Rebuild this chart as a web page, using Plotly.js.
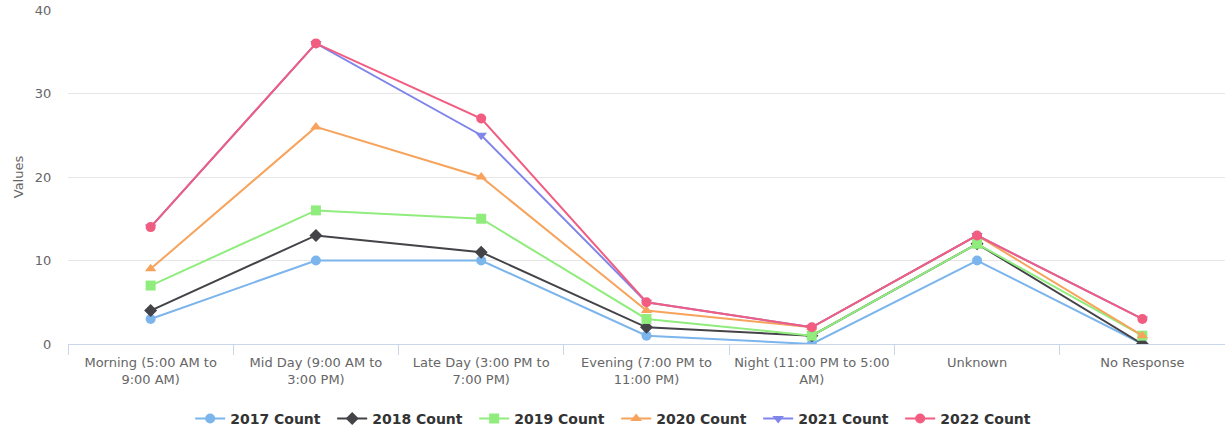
<!DOCTYPE html>
<html>
<head>
<meta charset="utf-8">
<script src="https://cdn.plot.ly/plotly-3.0.1.min.js"></script>
<style>
  html, body { margin: 0; padding: 0; background: #fff; }
  #myPlot { width: 1225px; height: 431px; }
</style>
</head>
<body>
<div id="myPlot"></div>
<script>
// categories along the x axis
const categories = [
  "Morning (5:00 AM to<br>9:00 AM)",
  "Mid Day (9:00 AM to<br>3:00 PM)",
  "Late Day (3:00 PM to<br>7:00 PM)",
  "Evening (7:00 PM to<br>11:00 PM)",
  "Night (11:00 PM to 5:00<br>AM)",
  "Unknown",
  "No Response"
];

const seriesNames = ["2017 Count", "2018 Count", "2019 Count", "2020 Count", "2021 Count", "2022 Count"];

// values
const count2017 = [3, 10, 10, 1, 0, 10, 0];
const count2018 = [4, 13, 11, 2, 1, 12, 0];
const count2019 = [7, 16, 15, 3, 1, 12, 1];
const count2020 = [9, 26, 20, 4, 2, 13, 1];
const count2021 = [14, 36, 25, 5, 2, 13, 3];
const count2022 = [14, 36, 27, 5, 2, 13, 3];

const yTicks = [0, 10, 20, 30, 40];

const seriesValues = [count2017, count2018, count2019, count2020, count2021, count2022];
const colors = ["#7cb5ec", "#434348", "#90ed7d", "#f7a35c", "#8085e9", "#f15c80"];
const symbols = ["circle", "diamond", "square", "triangle-up", "triangle-down", "circle"];

function renderChart() {
    const traces = [];
    for (let i = 0; i < seriesNames.length; i++) {
        traces.push({
            x: categories,
            y: seriesValues[i],
            name: seriesNames[i],
            type: 'scatter',
            mode: 'lines+markers',
            line: { color: colors[i], width: 2 },
            marker: { color: colors[i], symbol: symbols[i], size: 10 }
        });
    }

    const layout = {
        width: 1225,
        height: 431,
        margin: { l: 68, r: 0, t: 10, b: 87 },
        paper_bgcolor: '#ffffff',
        plot_bgcolor: '#ffffff',
        font: { family: 'DejaVu Sans, sans-serif', size: 13, color: '#666666' },
        showlegend: true,
        hovermode: false,
        xaxis: {
            type: 'category',
            range: [-0.5, 6.5],
            automargin: false,
            showgrid: false,
            zeroline: false,
            showline: true,
            linecolor: '#ccd6eb',
            linewidth: 1,
            ticks: 'outside',
            tickson: 'boundaries',
            ticklen: 10,
            tickcolor: '#ccd6eb',
            ticklabelstandoff: 6,
            tickfont: { size: 13, color: '#666666' }
        },
        yaxis: {
            range: [0, 40],
            automargin: false,
            tickvals: yTicks,
            showgrid: true,
            gridcolor: '#e6e6e6',
            gridwidth: 1,
            zeroline: false,
            showline: false,
            ticks: 'outside',
            ticklen: 13,
            tickcolor: 'rgba(0,0,0,0)',
            tickfont: { size: 13, color: '#666666' },
            title: { text: 'Values', font: { size: 13, color: '#666666' }, standoff: 8 }
        },
        legend: {
            orientation: 'h',
            xref: 'container',
            x: 0.503,
            xanchor: 'center',
            yref: 'container',
            y: 0.028,
            yanchor: 'middle',
            font: { size: 14, color: '#333333', weight: 'bold' },
            entrywidth: 97,
            itemwidth: 30
        }
    };

    Plotly.newPlot('myPlot', traces, layout, { displayModeBar: false, staticPlot: true });
}

renderChart();
</script>
</body>
</html>
